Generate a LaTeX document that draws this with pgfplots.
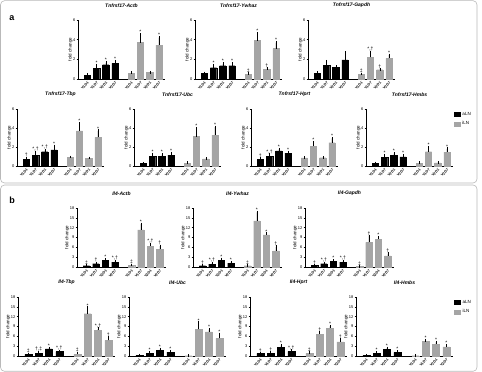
\documentclass[border=0pt]{standalone}
\usepackage{pgfplots}
\pgfplotsset{compat=1.18}
\usepackage{pgfplotstable}
\usepackage{fontspec}
\setmainfont{Liberation Sans}
\definecolor{ilngray}{RGB}{165,165,165}

\pgfplotsset{
  fcstyle/.style={
    scale only axis, xmin=0, xmax=9.4, ymin=0, clip=false,
    axis x line*=bottom, axis y line*=left,
    axis line style={line width=0.6pt},
    tick align=outside, major tick length=1.5pt,
    tick style={black, line width=0.5pt},
    xtick={1,2,3,4,5.75,6.75,7.75,8.75},
    xticklabels={V1D1,V1D7,V2D1,V2D7,V1D1,V1D7,V2D1,V2D7},
    x tick label style={rotate=45, anchor=north east, font=\fontsize{3.6}{4}\selectfont\bfseries, inner sep=0.6pt},
    y tick label style={font=\fontsize{4}{4.5}\selectfont, inner sep=1pt},
    /pgf/number format/assume math mode=true,
    ylabel={fold change},
    ylabel style={font=\fontsize{4.5}{5}\selectfont, yshift=-4pt},
    title style={at={(0.5,1)}, anchor=south, inner sep=0pt, yshift=6pt, font=\fontsize{5}{6}\selectfont\bfseries\itshape},
    legend style={draw=none, fill=none, font=\fontsize{4.5}{5}\selectfont, at={(1.0,1.0)}, anchor=north west, row sep=0.8pt, inner sep=1pt},
    legend cell align=left,
  },
  errs/.style={error bars/.cd, y dir=plus, y explicit,
    error bar style={black, line width=0.4pt},
    error mark options={black, mark size=1.4pt, line width=0.4pt}},
  sqlegend/.style={legend image code/.code={\draw[##1] (0pt,-2pt) rectangle (6pt,2.2pt);}},
  blackbar/.style={ybar, bar width=0.68, bar shift=0pt, fill=black, draw=black, line width=0.3pt, sqlegend, skip coords between index={4}{8}, errs},
  greybar/.style={ybar, bar width=0.68, bar shift=0pt, fill=ilngray, draw=ilngray, line width=0.3pt, sqlegend, skip coords between index={0}{4}, errs},
  annot/.style={forget plot, draw=none, mark=none, nodes near coords, point meta=explicit symbolic,
    nodes near coords style={font=\fontsize{5}{5.5}\selectfont, anchor=south, inner sep=0.6pt}},
}

\newcommand{\bp}[9]{%
\begin{axis}[fcstyle, at={(#1pt,#2pt)}, anchor=south west, width=#3pt, height=#4pt,
  ymax=#5, ytick distance=#6, title={#7}, #9]
\addplot[blackbar] table[x=x,y=y,y error=e]{#8};
\addplot[greybar] table[x=x,y=y,y error=e]{#8};
\addplot[annot] table[x=x, y expr=\thisrow{y}+\thisrow{e}, meta=lab]{#8};
\end{axis}}

% ---------- panel a ----------
\pgfplotstableread{
x y e lab
1 0.40 0.03 {}
2 1.10 0.30 *
3 1.45 0.20 *
4 1.60 0.20 *
5.75 0.55 0.10 {}
6.75 3.70 0.80 *
7.75 0.65 0.03 {}
8.75 3.45 0.75 *
}\aActb
\pgfplotstableread{
x y e lab
1 0.55 0.05 {}
2 1.15 0.25 *
3 1.35 0.20 *
4 1.35 0.20 *
5.75 0.50 0.05 ‡
6.75 3.90 0.70 *
7.75 1.00 0.05 †
8.75 3.10 0.60 *
}\aYwhaz
\pgfplotstableread{
x y e lab
1 0.60 0.05 {}
2 1.40 0.40 {}
3 1.20 0.05 {}
4 1.95 0.75 {}
5.75 0.45 0.05 ‡
6.75 2.20 0.55 {*,†}
7.75 0.95 0.05 †
8.75 2.10 0.35 *
}\aGapdh
\pgfplotstableread{
x y e lab
1 0.70 0.15 †
2 1.15 0.30 {*,†}
3 1.50 0.15 {*,†}
4 1.70 0.40 *
5.75 0.90 0.05 {}
6.75 3.70 0.75 *
7.75 0.80 0.05 {}
8.75 3.00 0.70 *
}\aTbp
\pgfplotstableread{
x y e lab
1 0.25 0.02 {}
2 1.05 0.20 *
3 1.05 0.15 *
4 1.15 0.20 *
5.75 0.30 0.03 {}
6.75 3.10 0.85 *
7.75 0.75 0.03 {}
8.75 3.25 0.85 *
}\aUbc
\pgfplotstableread{
x y e lab
1 0.70 0.10 †
2 1.05 0.15 {*,†}
3 1.60 0.15 *
4 1.35 0.10 *
5.75 0.85 0.05 {}
6.75 2.10 0.40 *
7.75 0.87 0.03 {}
8.75 2.45 0.45 *
}\aHprt
\pgfplotstableread{
x y e lab
1 0.28 0.03 {}
2 0.90 0.20 *
3 1.15 0.15 *
4 0.95 0.15 *
5.75 0.30 0.03 {}
6.75 1.50 0.45 *
7.75 0.33 0.03 {}
8.75 1.45 0.35 *
}\aHmbs
% ---------- panel b ----------
\pgfplotstableread{
x y e lab
1 0.40 0.10 ‡
2 1.00 0.20 †
3 2.00 0.20 *
4 1.45 0.30 {*,†}
5.75 0.50 0.10 ‡
6.75 11.30 1.80 *
7.75 6.40 0.50 {*,†}
8.75 5.40 1.00 †
}\bActb
\pgfplotstableread{
x y e lab
1 0.40 0.05 †
2 0.90 0.20 {*,†}
3 2.05 0.40 *
4 1.20 0.20 *
5.75 0.40 0.05 ‡
6.75 14.10 2.60 *
7.75 9.80 0.30 *
8.75 4.95 1.20 †
}\bYwhaz
\pgfplotstableread{
x y e lab
1 0.45 0.05 †
2 1.00 0.20 {*,†}
3 1.75 0.20 *
4 1.45 0.30 {*,†}
5.75 0.20 0.05 ‡
6.75 7.50 1.90 †
7.75 8.50 0.50 *
8.75 3.40 0.70 †
}\bGapdh
\pgfplotstableread{
x y e lab
1 0.50 0.10 ‡
2 0.90 0.20 {†,‡}
3 2.15 0.20 *
4 1.35 0.20 {*,†}
5.75 0.60 0.30 ‡
6.75 12.90 1.80 *
7.75 7.90 0.40 {*,†}
8.75 4.80 0.90 †
}\bTbp
\pgfplotstableread{
x y e lab
1 0.20 0.03 {}
2 0.90 0.20 *
3 1.75 0.30 *
4 1.15 0.20 *
5.75 0.10 0.03 {}
6.75 8.10 2.00 *
7.75 7.35 0.70 *
8.75 5.40 1.30 *
}\bUbc
\pgfplotstableread{
x y e lab
1 0.80 0.05 †
2 0.90 0.05 †
3 2.55 0.60 *
4 1.40 0.20 {*,†}
5.75 0.80 0.20 ‡
6.75 6.65 0.40 †
7.75 8.50 0.50 *
8.75 4.30 0.80 †
}\bHprt
\pgfplotstableread{
x y e lab
1 0.20 0.03 {}
2 0.90 0.15 *
3 1.95 0.50 *
4 1.10 0.20 *
5.75 0.10 0.03 {}
6.75 4.40 0.40 *
7.75 3.65 0.50 *
8.75 2.75 0.40 *
}\bHmbs

\begin{document}
\begin{tikzpicture}[x=1pt,y=1pt]
\path[use as bounding box] (0,0) rectangle (482,372);
\draw[gray!55, line width=0.6pt, rounded corners=4pt] (0.5,189) rectangle (477,371.3);
\draw[gray!55, line width=0.6pt, rounded corners=4pt] (0.5,0.7) rectangle (477,187);
\node[font=\fontsize{9}{10}\selectfont\bfseries, anchor=center] at (12,354) {a};
\node[font=\fontsize{9}{10}\selectfont\bfseries, anchor=center] at (12,172) {b};
% panel a, row 1
\bp{78}{293}{87}{59}{6}{2}{Tnfrsf17-Actb}{\aActb}{}
\bp{195}{293}{87}{59}{6}{2}{Tnfrsf17-Ywhaz}{\aYwhaz}{}
\bp{308}{293}{87}{59}{6}{2}{Tnfrsf17-Gapdh}{\aGapdh}{}
% panel a, row 2
\bp{17}{206}{87}{57}{6}{2}{Tnfrsf17-Tbp}{\aTbp}{}
\bp{134}{206}{87}{57}{6}{2}{Tnfrsf17-Ubc}{\aUbc}{}
\bp{251}{206}{87}{57}{6}{2}{Tnfrsf17-Hprt}{\aHprt}{}
\bp{366}{206}{87}{57}{6}{2}{Tnfrsf17-Hmbs}{\aHmbs}{legend entries={aLN,iLN}}
% panel b, row 1
\bp{77}{105}{89}{59}{18}{3}{Il4-Actb}{\bActb}{}
\bp{193}{105}{89}{59}{18}{3}{Il4-Ywhaz}{\bYwhaz}{}
\bp{305}{105}{89}{59}{18}{3}{Il4-Gapdh}{\bGapdh}{}
% panel b, row 2
\bp{18}{16}{97}{59}{18}{3}{Il4-Tbp}{\bTbp}{}
\bp{129}{16}{97}{59}{18}{3}{Il4-Ubc}{\bUbc}{}
\bp{250}{16}{97}{59}{18}{3}{Il4-Hprt}{\bHprt}{}
\bp{356}{16}{97}{59}{18}{3}{Il4-Hmbs}{\bHmbs}{legend entries={aLN,iLN}}
\end{tikzpicture}
\end{document}
